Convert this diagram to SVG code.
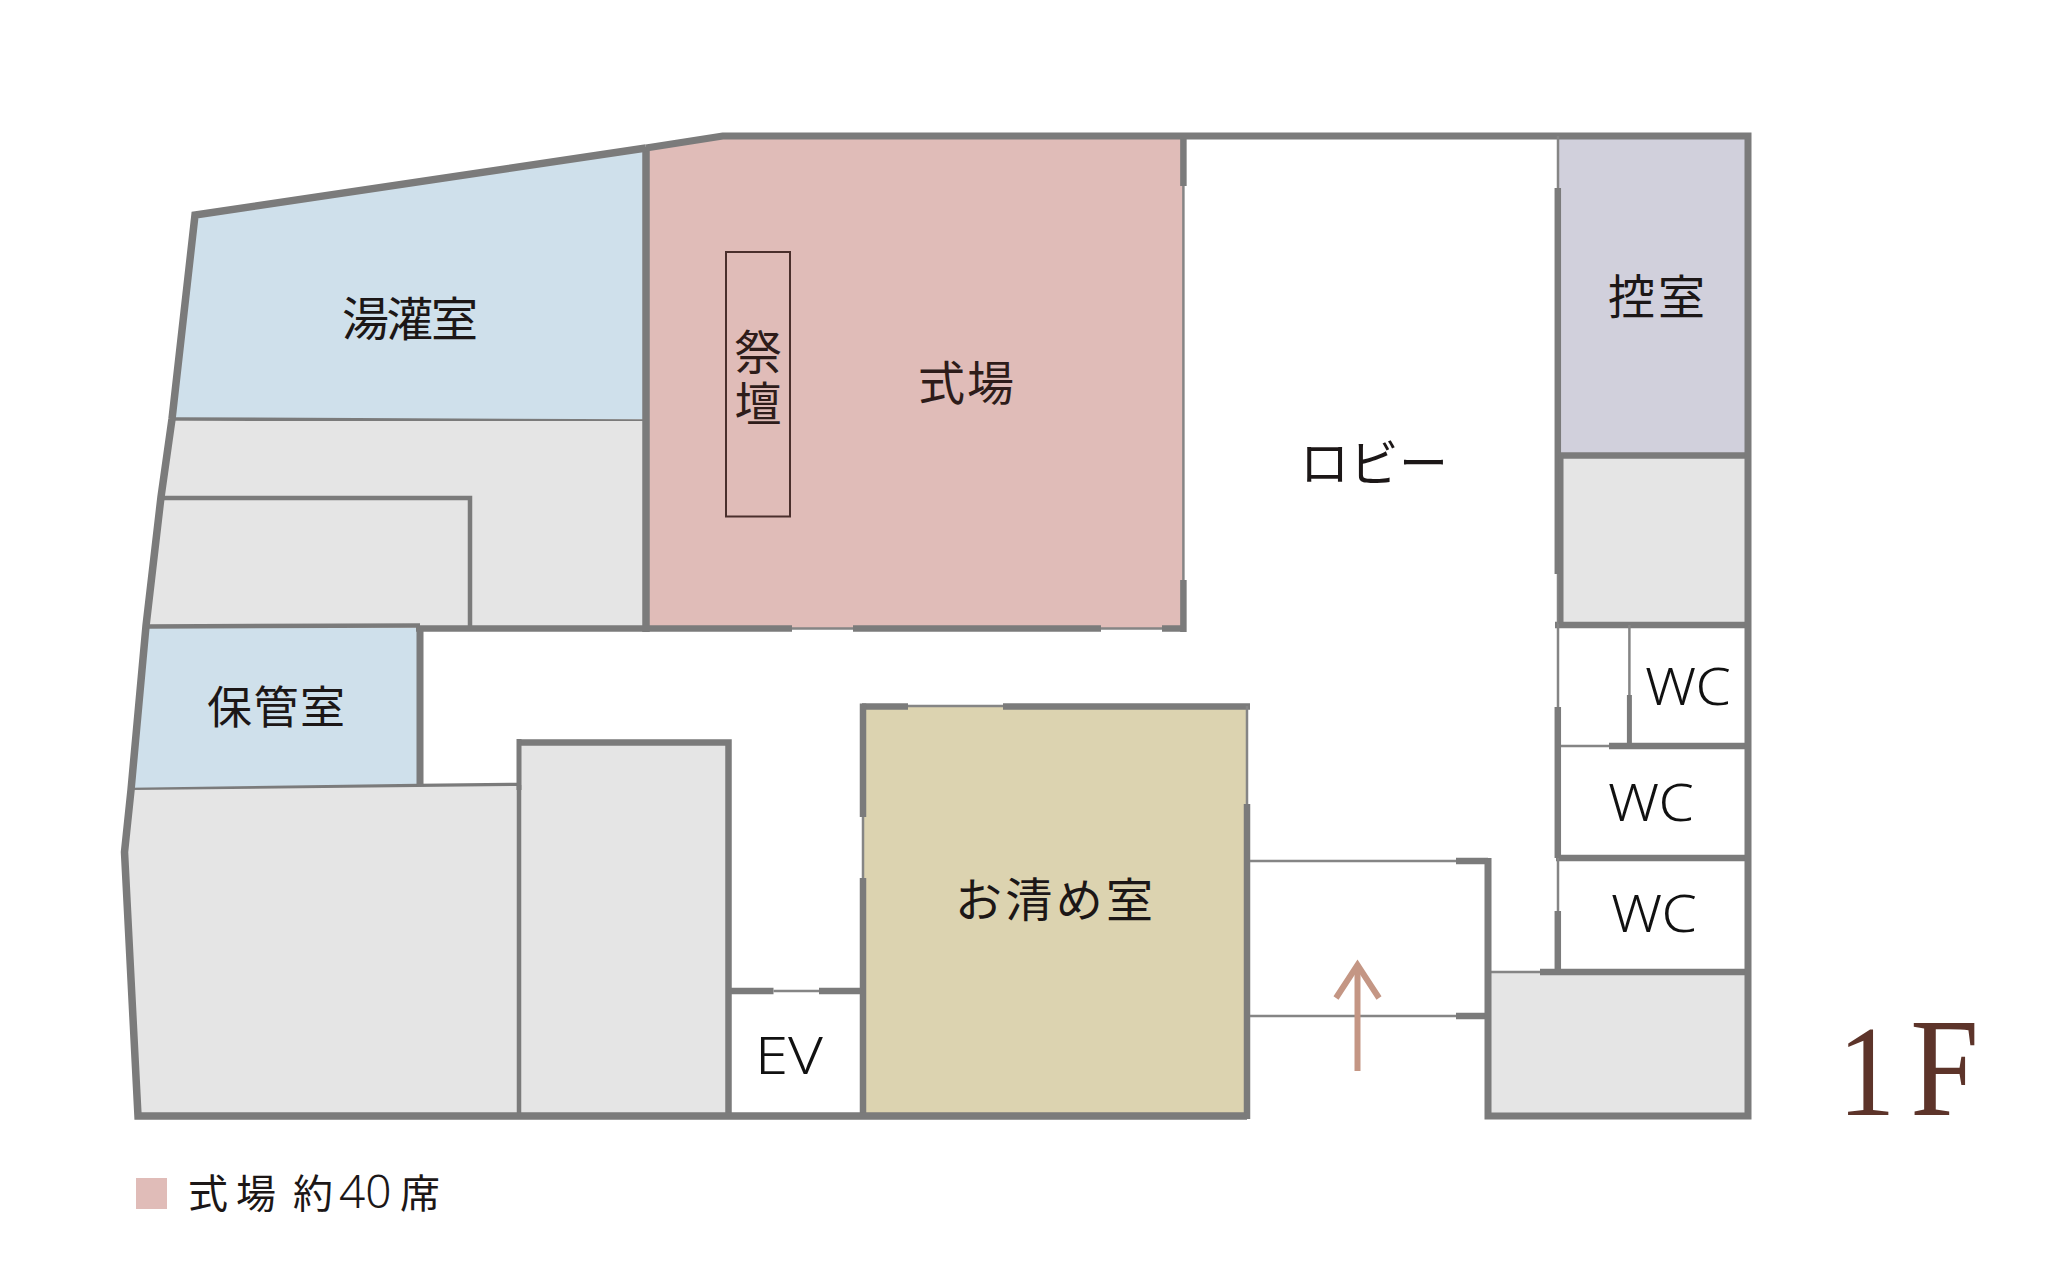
<svg xmlns="http://www.w3.org/2000/svg" width="2048" height="1262" viewBox="0 0 2048 1262">
<style>
.w{fill:none;stroke:#7b7b7b;stroke-width:6.500;stroke-linecap:butt;stroke-linejoin:miter}
.b{fill:none;stroke:#7b7b7b;stroke-width:7.500;stroke-linejoin:miter}
.m{fill:none;stroke:#7b7b7b;stroke-width:4.500}
.t{fill:none;stroke:#858585;stroke-width:2.500}
.g{fill:#e5e5e5}
.l{font-family:"Noto Sans CJK JP","Noto Sans",sans-serif;font-weight:400;fill:#1c1717;font-size:47px}
.p{font-family:"Noto Sans","Liberation Sans",sans-serif;font-weight:300;fill:#111111;font-size:52px}
</style>
<rect width="2048" height="1262" fill="#ffffff"/>
<g id="yukan"><polygon points="195,215 646,148 646,419 172.400,419" fill="#cfe0eb"/><line class="m" x1="172" y1="419" x2="646" y2="421" style="stroke-width:3.500"/><text class="l" x="342" y="336" textLength="136" lengthAdjust="spacing">湯灌室</text></g>
<g id="storage-north"><polygon class="g" points="172.400,421 646,421 646,628 145.500,628"/><polyline class="m" points="161,498 470,498 470,628"/></g>
<g id="hokan"><polygon points="146,628 418,628 418,786 131,790" fill="#cfe0eb"/><polyline class="m" points="131,790 418,786 518,785"/><line class="w" x1="420" y1="628" x2="420" y2="787" style="stroke-width:7"/><text class="l" x="207" y="724" textLength="138" lengthAdjust="spacing" style="font-size:45px">保管室</text></g>
<g id="storage-southwest"><polygon class="g" points="131,790 124.500,852 138,1116 518,1116 518,786"/></g>
<g id="storage-tall"><rect class="g" x="518" y="742" width="210" height="374"/><line class="m" x1="519" y1="785" x2="519" y2="1116"/><polyline class="w" points="519,742.500 728.500,742.500 728.500,1116"/><line class="w" x1="519" y1="739" x2="519" y2="790" style="stroke-width:5"/></g>
<g id="ev"><line class="w" x1="728" y1="991" x2="773.500" y2="991"/><line class="t" x1="773.500" y1="991" x2="819" y2="991"/><line class="w" x1="819" y1="991" x2="864" y2="991"/><text class="p" x="755" y="1074" textLength="68" lengthAdjust="spacingAndGlyphs">EV</text></g>
<g id="shikijo"><polygon points="646,147 722.700,136 1183.400,136 1183.400,628 646,628" fill="#e0bcb8"/><rect x="726" y="252" width="64" height="264.500" fill="none" stroke="#4a2f2c" stroke-width="2"/><text class="l" x="758" y="328" style="fill:#2e1c1a;writing-mode:vertical-rl;letter-spacing:5px">祭壇</text><text class="l" x="918" y="400" textLength="96" lengthAdjust="spacing" style="fill:#2e1c1a">式場</text><line class="w" x1="1183.400" y1="136" x2="1183.400" y2="186"/><line class="t" x1="1183.400" y1="186" x2="1183.400" y2="580"/><line class="w" x1="1183.400" y1="580" x2="1183.400" y2="632"/><line class="w" x1="646" y1="628.500" x2="792" y2="628.500"/><line class="t" x1="792" y1="628.500" x2="853" y2="628.500"/><line class="w" x1="853" y1="628.500" x2="1101" y2="628.500"/><line class="t" x1="1101" y1="628.500" x2="1162" y2="628.500"/><line class="w" x1="1162" y1="628.500" x2="1186" y2="628.500"/><line class="w" x1="646" y1="147" x2="646" y2="632" style="stroke-width:7.500"/></g>
<g id="okiyome"><rect x="862" y="706" width="385" height="409" fill="#dcd3b0"/><line class="w" x1="862" y1="706.500" x2="908" y2="706.500"/><line class="t" x1="908" y1="706" x2="1003" y2="706"/><line class="w" x1="1003" y1="706.500" x2="1250" y2="706.500"/><line class="w" x1="863" y1="703.500" x2="863" y2="817"/><line class="t" x1="863" y1="817" x2="863" y2="878"/><line class="w" x1="863" y1="878" x2="863" y2="1119"/><line class="t" x1="1247" y1="706" x2="1247" y2="804"/><line class="w" x1="1247" y1="804" x2="1247" y2="1119"/><text class="l" x="955" y="917" textLength="198" lengthAdjust="spacing">お清め室</text></g>
<g id="lobby"><text class="l" x="1300" y="481" textLength="148" lengthAdjust="spacing" style="font-size:49px">ロビー</text></g>
<g id="hikae"><rect x="1558" y="136" width="190" height="319" fill="#d1d0dc"/><text class="l" x="1608" y="314" textLength="97" lengthAdjust="spacing">控室</text></g>
<g id="storage-east"><rect class="g" x="1558" y="455" width="190" height="169"/><line class="w" x1="1558" y1="455.500" x2="1748" y2="455.500"/><line class="w" x1="1555" y1="625" x2="1748" y2="625"/></g>
<g id="wc-1"><line class="t" x1="1629.400" y1="625" x2="1629.400" y2="695"/><line class="w" x1="1629.400" y1="695" x2="1629.400" y2="746" style="stroke-width:5"/><line class="t" x1="1560" y1="746" x2="1609" y2="746"/><line class="w" x1="1609" y1="746" x2="1748" y2="746"/><text class="p" x="1645" y="705" textLength="86" lengthAdjust="spacingAndGlyphs">WC</text></g>
<g id="wc-2"><line class="w" x1="1556" y1="858" x2="1748" y2="858"/><text class="p" x="1608" y="821" textLength="86" lengthAdjust="spacingAndGlyphs">WC</text></g>
<g id="wc-3"><text class="p" x="1611" y="932" textLength="86" lengthAdjust="spacingAndGlyphs">WC</text></g>
<g id="entrance-hall"><line class="t" x1="1250" y1="861" x2="1456" y2="861"/><line class="w" x1="1456" y1="861" x2="1488" y2="861"/><line class="t" x1="1250" y1="1016" x2="1456" y2="1016"/><line class="w" x1="1456" y1="1016" x2="1488" y2="1016"/><g fill="none" stroke="#c49684" stroke-width="6"><line x1="1357.500" y1="1071" x2="1357.500" y2="966"/><polyline points="1336,998 1357.500,965 1379,998"/></g></g>
<g id="storage-south"><rect class="g" x="1488" y="972" width="260" height="144"/><line class="t" x1="1488" y1="972" x2="1540" y2="972"/><line class="w" x1="1540" y1="972" x2="1748" y2="972"/></g>
<g id="walls">
<polyline class="w" points="646,148 722.700,136 1748,136 1748,1116 1488,1116 1488,858" style="stroke-width:7"/>
<polyline class="b" points="646,148 195,215 172,419 161,497 146,626 131,790 124.500,852 138,1116 1247,1116"/>
<line class="m" x1="146" y1="626.500" x2="420" y2="625.500"/>
<line class="w" x1="416" y1="628.500" x2="646" y2="628.500"/>
<line class="t" x1="1558" y1="136" x2="1558" y2="188"/>
<line class="w" x1="1557.800" y1="188" x2="1557.800" y2="574"/>
<line class="t" x1="1558" y1="574" x2="1558" y2="707"/>
<line class="w" x1="1557.800" y1="707" x2="1557.800" y2="858"/>
<line class="t" x1="1558" y1="858" x2="1558" y2="911"/>
<line class="w" x1="1557.800" y1="911" x2="1557.800" y2="972"/>
<line x1="1561" y1="455" x2="1561" y2="624" class="w" style="stroke-width:5"/>
</g>
<g id="legend"><rect x="136" y="1178" width="31" height="31" fill="#e0bcb8"/><text class="l" y="1208" style="font-size:40px"><tspan x="188">式</tspan><tspan x="236">場</tspan><tspan x="293">約</tspan><tspan x="339" style="font-family:'Noto Sans',sans-serif;font-size:46px;font-weight:300">40</tspan><tspan x="400">席</tspan></text></g>
<text id="floor" transform="translate(1838 1115) scale(.88 1)" font-family="Liberation Serif" font-size="140" fill="#5d342a"><tspan font-size="130">1</tspan><tspan dx="17">F</tspan></text>
</svg>
